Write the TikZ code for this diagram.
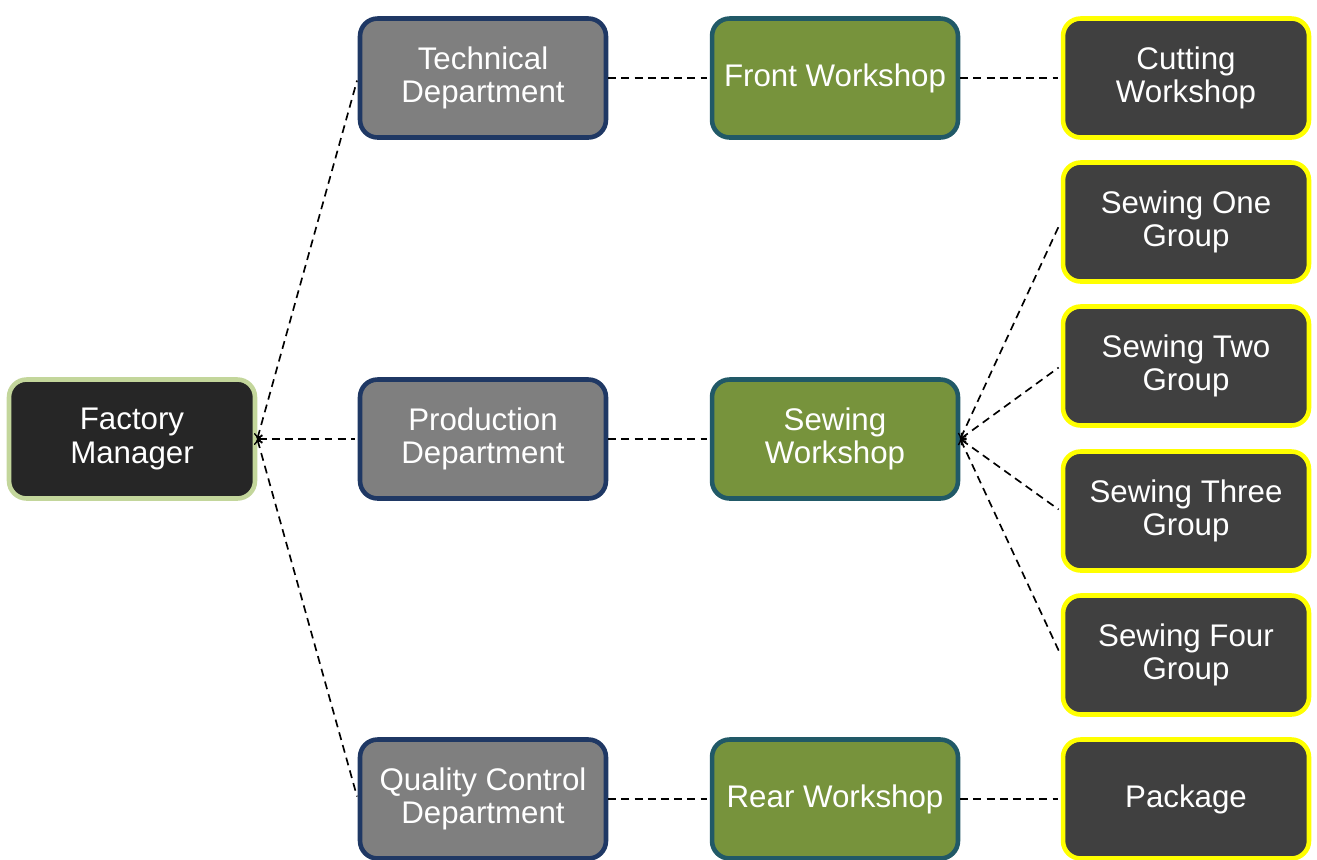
\documentclass[tikz,border=0pt]{standalone}
\usepackage{fontspec}
\setmainfont{Liberation Sans}
\usepackage{tikz}

\definecolor{mgrfill}{HTML}{262626}
\definecolor{mgrline}{HTML}{C3D69B}
\definecolor{depfill}{HTML}{7F7F7F}
\definecolor{depline}{HTML}{1F3864}
\definecolor{shopfill}{HTML}{77933C}
\definecolor{shopline}{HTML}{215967}
\definecolor{grpfill}{HTML}{404040}
\definecolor{grpline}{HTML}{FFFF00}

\tikzset{
  box/.style={rectangle, rounded corners=10pt, line width=2.6pt, text=white, align=center,
    minimum width=4.92cm, minimum height=2.38cm, inner sep=2pt,
    font=\fontsize{17.8}{19}\selectfont},
  manager/.style={box, fill=mgrfill, draw=mgrline},
  dept/.style={box, fill=depfill, draw=depline},
  shop/.style={box, fill=shopfill, draw=shopline},
  group/.style={box, fill=grpfill, draw=grpline},
  link/.style={black, line width=0.95pt, dash pattern=on 4.5pt off 3pt, shorten >=1.5pt},
  fan/.style={link, <-}
}

\begin{document}
\begin{tikzpicture}[x=0.02cm, y=-0.02cm]
\useasboundingbox (0,0) rectangle (1317,859);

\node[manager] (fm) at (132,439) {Factory\\Manager};

\node[dept] (tech) at (483,78) {Technical\\Department};
\node[dept] (prod) at (483,439) {Production\\Department};
\node[dept] (qc) at (483,799) {Quality Control\\Department};

\node[shop] (front) at (835,78) {Front Workshop};
\node[shop] (sew) at (835,439) {Sewing\\Workshop};
\node[shop] (rear) at (835,799) {Rear Workshop};

\node[group] (cut) at (1186,78) {Cutting\\Workshop};
\node[group] (sone) at (1186,222) {Sewing One\\Group};
\node[group] (stwo) at (1186,366) {Sewing Two\\Group};
\node[group] (sthree) at (1186,511) {Sewing Three\\Group};
\node[group] (sfour) at (1186,655) {Sewing Four\\Group};
\node[group] (pack) at (1186,799) {Package};

% departments
\draw[fan] (fm.east) -- (tech.west);
\draw[fan] (fm.east) -- (prod.west);
\draw[fan] (fm.east) -- (qc.west);

% workshops
\draw[link] (tech.east) -- (front.west);
\draw[link] (prod.east) -- (sew.west);
\draw[link] (qc.east) -- (rear.west);

% groups
\draw[link] (front.east) -- (cut.west);
\foreach \g in {sone,stwo,sthree,sfour}
  \draw[fan] (sew.east) -- (\g.west);
\draw[link] (rear.east) -- (pack.west);
\end{tikzpicture}
\end{document}
